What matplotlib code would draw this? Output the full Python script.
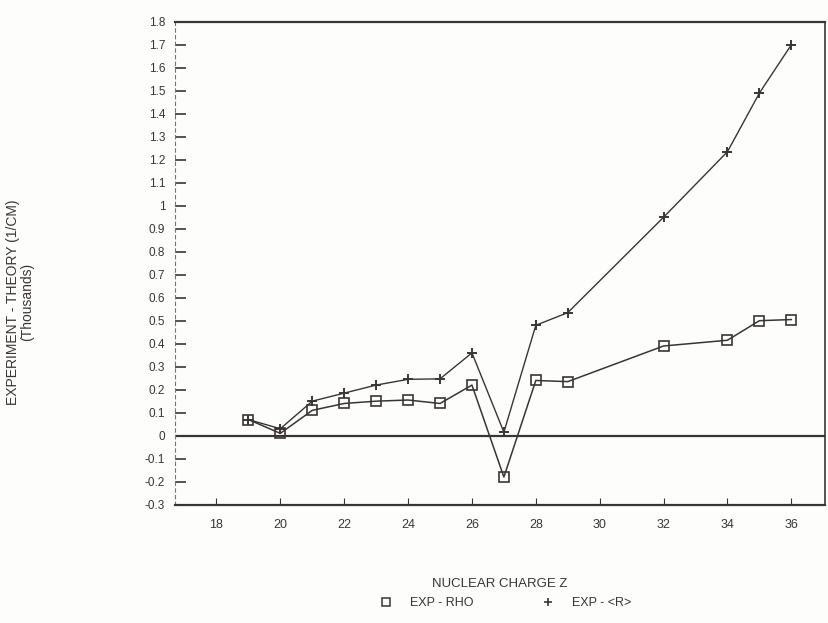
import matplotlib
matplotlib.use("Agg")
import matplotlib.pyplot as plt
from matplotlib.lines import Line2D

z_rho = [19, 20, 21, 22, 23, 24, 25, 26, 27, 28, 29, 32, 34, 35, 36]
exp_rho = [0.07, 0.01, 0.11, 0.14, 0.15, 0.155, 0.14, 0.22, -0.18, 0.24, 0.235, 0.39, 0.415, 0.50, 0.505]

z_r = [19, 20, 21, 22, 23, 24, 25, 26, 27, 28, 29, 32, 34, 35, 36]
exp_r = [0.07, 0.03, 0.15, 0.185, 0.22, 0.245, 0.247, 0.36, 0.015, 0.48, 0.535, 0.95, 1.235, 1.49, 1.70]

xticks = [18, 20, 22, 24, 26, 28, 30, 32, 34, 36]
xtick_labels = ["18", "20", "22", "24", "26", "28", "30", "32", "34", "36"]
yticks = [-0.3, -0.2, -0.1, 0, 0.1, 0.2, 0.3, 0.4, 0.5, 0.6, 0.7, 0.8, 0.9, 1.0,
          1.1, 1.2, 1.3, 1.4, 1.5, 1.6, 1.7, 1.8]
ytick_labels = ["-0.3", "-0.2", "-0.1", "0", "0.1", "0.2", "0.3", "0.4", "0.5", "0.6",
                "0.7", "0.8", "0.9", "1", "1.1", "1.2", "1.3", "1.4", "1.5", "1.6",
                "1.7", "1.8"]

ink = "#3a3535"
bg = "#fdfdfb"
plt.rcParams['font.family'] = ['Liberation Sans', 'DejaVu Sans']

fig = plt.figure(figsize=(8.29, 6.23), dpi=100, facecolor=bg)
ax = fig.add_axes([0.211, 0.19, 0.784, 0.775], facecolor=bg)

ax.plot(z_rho, exp_rho, color=ink, lw=1.1, marker='s', ms=7, mfc='none',
        mec=ink, mew=1.2)
ax.plot(z_r, exp_r, color=ink, lw=1.0, marker='+', ms=7, mew=1.4)
ax.axhline(0, color=ink, lw=1.6)

ax.set_xlim(16.7, 37.05)
ax.set_ylim(-0.3, 1.8)
ax.set_xticks(xticks)
ax.set_xticklabels(xtick_labels)
ax.set_yticks(yticks)
ax.set_yticklabels(ytick_labels)

ax.tick_params(axis='y', direction='in', length=8, width=1.2, colors=ink,
               labelsize=8.5, pad=7)
ax.tick_params(axis='x', direction='in', length=5, width=0.8, colors=ink,
               labelsize=9, pad=10)

for s in ['top', 'bottom']:
    ax.spines[s].set_linewidth(1.6)
    ax.spines[s].set_color(ink)
ax.spines['right'].set_linewidth(1.2)
ax.spines['right'].set_color(ink)
ax.spines['left'].set_linewidth(0.8)
ax.spines['left'].set_color('#777777')
ax.spines['left'].set_linestyle((0, (3, 3)))

ax.set_xlabel("NUCLEAR CHARGE Z", fontsize=9.5, color=ink, labelpad=34)
fig.text(0.024, 0.515, "EXPERIMENT - THEORY (1/CM)\n(Thousands)", rotation=90,
         ha='center', va='center', fontsize=10,
         family=['Liberation Sans Narrow', 'Liberation Sans', 'DejaVu Sans'],
         color=ink, linespacing=1.0, multialignment='center')

handles = [Line2D([], [], ls='none', marker='s', ms=6, mfc='none', mec=ink, mew=1.1),
           Line2D([], [], ls='none', marker='+', ms=6, mec=ink, mew=1.2)]
fig.legend(handles, ['EXP - RHO', 'EXP - <R>'], loc='center',
           bbox_to_anchor=(0.61, 0.032), ncol=2, frameon=False,
           fontsize=9, handlelength=1.0, columnspacing=5.5, labelcolor=ink,
           handletextpad=1.4)

fig.savefig("out.png", dpi=100, facecolor=bg)
